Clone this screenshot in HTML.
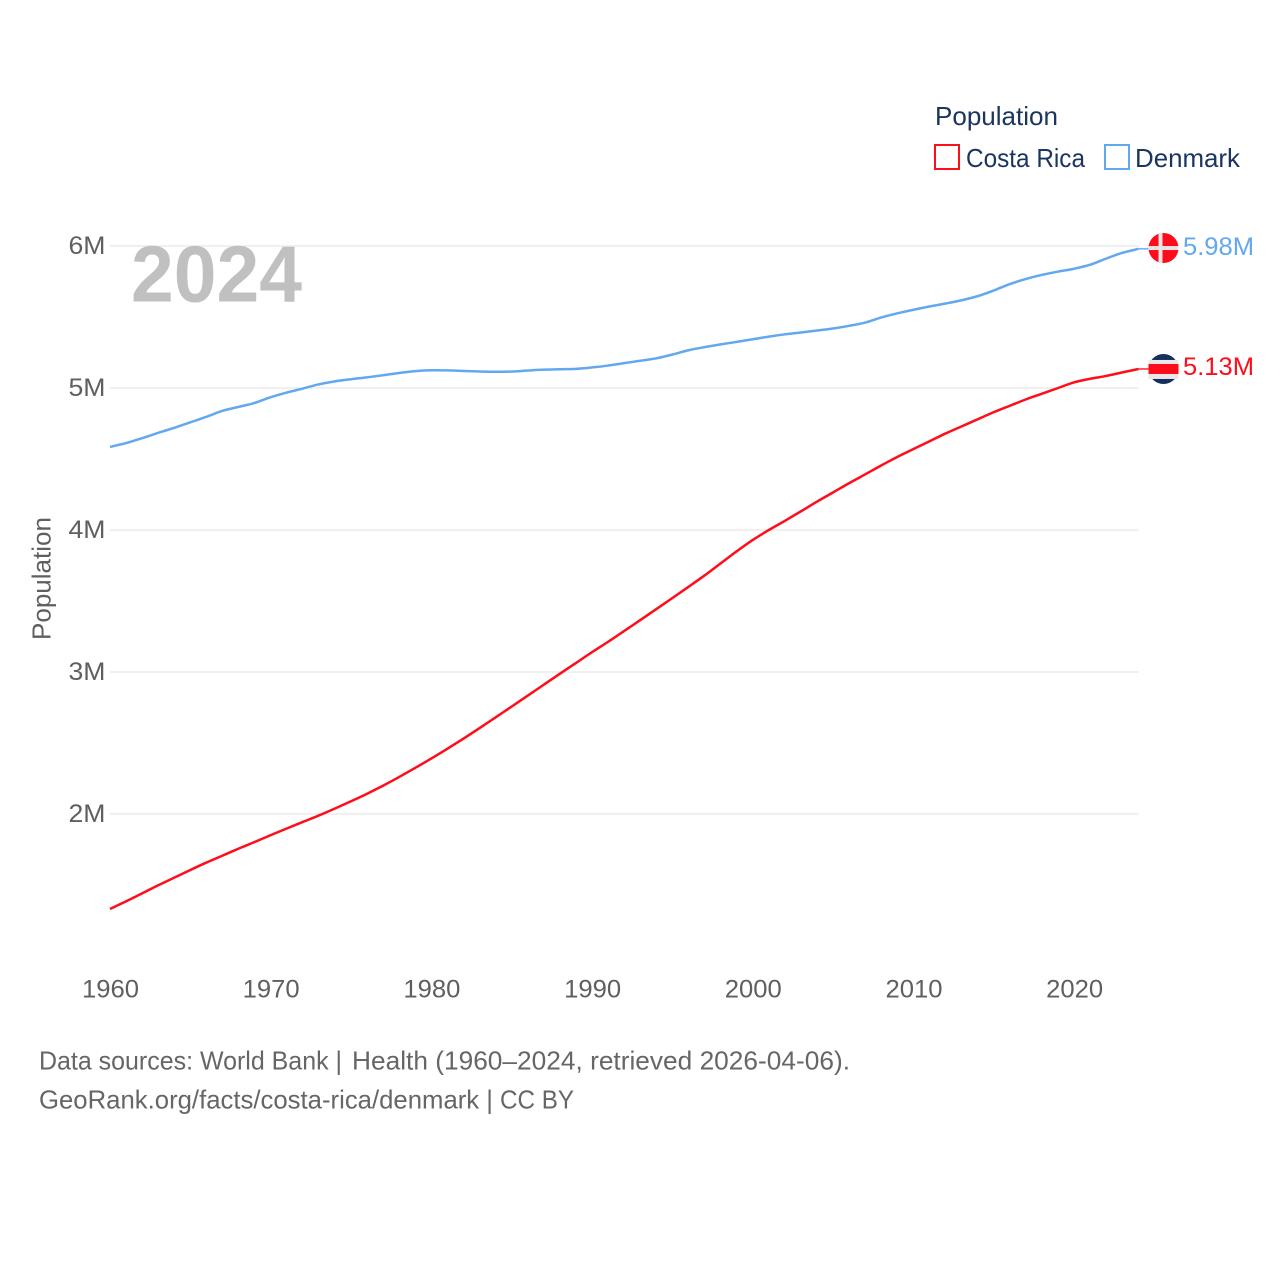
<!DOCTYPE html>
<html lang="en">
<head>
<meta charset="utf-8">
<title>Population: Costa Rica and Denmark</title>
<style>
html,body{margin:0;padding:0;background:#fff;}
svg{display:block;}
text{font-family:"Liberation Sans",sans-serif;}
</style>
</head>
<body>
<svg id="chart" xmlns="http://www.w3.org/2000/svg" width="1280" height="1280" viewBox="0 0 1280 1280">
  <rect x="0" y="0" width="1280" height="1280" fill="#ffffff"/>
  <g id="grid"></g>
  <g id="yaxis"></g>
  <g id="xaxis"></g>
  <text transform="translate(50.5,640) rotate(-90)" font-size="26" fill="#5f5f5f" textLength="123" lengthAdjust="spacingAndGlyphs">Population</text>
  <text x="131" y="301.5" font-size="80" font-weight="700" fill="#c0c0c0" textLength="171" lengthAdjust="spacingAndGlyphs">2024</text>
  <g id="series"></g>
  <g id="ends"></g>

  <g>
    <text x="935" y="125" font-size="26" fill="#1b3560" textLength="123" lengthAdjust="spacingAndGlyphs">Population</text>
    <g>
      <rect x="935" y="145" width="24" height="24" fill="none" stroke="#ff0d1a" stroke-width="2"/>
      <text x="966" y="167" font-size="26" fill="#1b3560" textLength="119" lengthAdjust="spacingAndGlyphs">Costa Rica</text>
    </g>
    <g>
      <rect x="1105" y="145" width="24" height="24" fill="none" stroke="#62a8ee" stroke-width="2"/>
      <text x="1135" y="167" font-size="26" fill="#1b3560" textLength="105" lengthAdjust="spacingAndGlyphs">Denmark</text>
    </g>
  </g>

  <g>
    <text x="39" y="1069.5" font-size="26" fill="#666666" textLength="303" lengthAdjust="spacingAndGlyphs">Data sources: World Bank |</text>
    <text x="352" y="1069.5" font-size="26" fill="#666666" textLength="498" lengthAdjust="spacingAndGlyphs">Health (1960–2024, retrieved 2026-04-06).</text>
    <text x="39" y="1108.5" font-size="26" fill="#666666" textLength="454" lengthAdjust="spacingAndGlyphs">GeoRank.org/facts/costa-rica/denmark |</text>
    <text x="500" y="1108.5" font-size="26" fill="#666666" textLength="74" lengthAdjust="spacingAndGlyphs">CC BY</text>
  </g>
</svg>
<script>
const startYear = 1960;
const xTickYears = [1960, 1970, 1980, 1990, 2000, 2010, 2020];
const yTickValues = [2, 3, 4, 5, 6];
const yTickLabels = ['2M', '3M', '4M', '5M', '6M'];

// Population in millions, one value per year from 1960 to 2024
const costaRica = [
  1.331, 1.385, 1.441, 1.498, 1.552, 1.606, 1.658, 1.707, 1.756, 1.803,
  1.851, 1.898, 1.944, 1.990, 2.039, 2.090, 2.143, 2.200, 2.261, 2.325,
  2.391, 2.460, 2.531, 2.605, 2.681, 2.757, 2.834, 2.911, 2.988, 3.064,
  3.140, 3.213, 3.289, 3.366, 3.443, 3.521, 3.600, 3.680, 3.765, 3.850,
  3.930, 4.000, 4.065, 4.132, 4.200, 4.265, 4.330, 4.392, 4.455, 4.515,
  4.570, 4.625, 4.680, 4.730, 4.780, 4.830, 4.875, 4.920, 4.960, 5.000,
  5.040, 5.065, 5.085, 5.110, 5.134
];
const denmark = [
  4.585, 4.612, 4.647, 4.684, 4.720, 4.758, 4.797, 4.839, 4.867, 4.895,
  4.935, 4.968, 4.996, 5.026, 5.047, 5.062, 5.075, 5.090, 5.106, 5.119,
  5.125, 5.124, 5.120, 5.116, 5.114, 5.116, 5.123, 5.129, 5.132, 5.135,
  5.145, 5.158, 5.175, 5.192, 5.209, 5.236, 5.266, 5.288, 5.307, 5.325,
  5.343, 5.362, 5.378, 5.391, 5.405, 5.419, 5.438, 5.461, 5.497, 5.526,
  5.551, 5.574, 5.595, 5.618, 5.647, 5.687, 5.732, 5.768, 5.797, 5.820,
  5.840, 5.868, 5.912, 5.952, 5.980
];

const SVGNS = 'http://www.w3.org/2000/svg';
const xScale = function (year) { return 110 + (year - startYear) * 16.07; };
const yScale = function (value) { return 246 + (6 - value) * 142; };
const make = function (parent, tag) {
  const node = document.createElementNS(SVGNS, tag);
  parent.appendChild(node);
  return node;
};

const gridG = document.getElementById('grid');
const yG = document.getElementById('yaxis');
const xG = document.getElementById('xaxis');
const seriesG = document.getElementById('series');
const endsG = document.getElementById('ends');

yTickValues.forEach(function (v, i) {
  const line = make(gridG, 'line');
  
  
  line.setAttribute('x1', 110);
  line.setAttribute('x2', xScale(2024));
  line.setAttribute('y1', yScale(v));
  line.setAttribute('y2', yScale(v));
  line.setAttribute('stroke', '#ebebeb');
  line.setAttribute('stroke-width', 1.6);

  const label = make(yG, 'text');
  
  
  label.setAttribute('x', 68.5);
  label.setAttribute('y', yScale(v) + 8);
  label.setAttribute('font-size', 25);
  label.setAttribute('fill', '#5f5f5f');
  label.setAttribute('textLength', 37);
  label.setAttribute('lengthAdjust', 'spacingAndGlyphs');
  label.textContent = yTickLabels[i];
});

xTickYears.forEach(function (year) {
  const label = make(xG, 'text');
  
  
  label.setAttribute('x', xScale(year) - 28);
  label.setAttribute('y', 997.5);
  label.setAttribute('font-size', 25);
  label.setAttribute('fill', '#5f5f5f');
  label.setAttribute('textLength', 57);
  label.setAttribute('lengthAdjust', 'spacingAndGlyphs');
  label.textContent = String(year);
});

function smoothPath(values) {
  const pts = values.map(function (v, i) {
    return [xScale(startYear + i), yScale(v)];
  });
  let d = 'M' + pts[0][0].toFixed(2) + ' ' + pts[0][1].toFixed(2);
  for (let i = 0; i < pts.length - 1; i++) {
    const p0 = pts[Math.max(i - 1, 0)];
    const p1 = pts[i];
    const p2 = pts[i + 1];
    const p3 = pts[Math.min(i + 2, pts.length - 1)];
    const c1x = p1[0] + (p2[0] - p0[0]) / 6;
    const c1y = p1[1] + (p2[1] - p0[1]) / 6;
    const c2x = p2[0] - (p3[0] - p1[0]) / 6;
    const c2y = p2[1] - (p3[1] - p1[1]) / 6;
    d += 'C' + c1x.toFixed(2) + ' ' + c1y.toFixed(2) + ' ' + c2x.toFixed(2) + ' ' + c2y.toFixed(2) + ' ' + p2[0].toFixed(2) + ' ' + p2[1].toFixed(2);
  }
  return d;
}

function drawLine(values, color, name) {
  const line = make(seriesG, 'path');
  
  
  line.setAttribute('d', smoothPath(values));
  line.setAttribute('fill', 'none');
  line.setAttribute('stroke', color);
  line.setAttribute('stroke-width', 2.5);
  line.setAttribute('stroke-linejoin', 'round');
}

function drawEnd(values, color, name) {
  const last = values[values.length - 1];
  const yEnd = yScale(last);
  const leader = make(endsG, 'line');
  
  
  leader.setAttribute('x1', xScale(2024));
  leader.setAttribute('x2', 1149);
  leader.setAttribute('y1', yEnd);
  leader.setAttribute('y2', yEnd);
  leader.setAttribute('stroke', color);
  leader.setAttribute('stroke-width', 1.6);
  leader.setAttribute('opacity', 0.85);

  const label = make(endsG, 'text');
  
  
  label.setAttribute('x', 1183);
  label.setAttribute('y', yEnd + 6);
  label.setAttribute('font-size', 25);
  label.setAttribute('fill', color);
  label.setAttribute('textLength', 71);
  label.setAttribute('lengthAdjust', 'spacingAndGlyphs');
  label.textContent = last.toFixed(2) + 'M';
  return yEnd;
}

drawLine(costaRica, '#ff0d1a', 'costa-rica-line');
drawLine(denmark, '#62a8ee', 'denmark-line');
const crY = drawEnd(costaRica, '#ff0d1a', 'costa-rica');
const dkY = drawEnd(denmark, '#62a8ee', 'denmark');

// Denmark flag marker
const dk = make(endsG, 'g');


dk.setAttribute('transform', 'translate(1163.5,' + (dkY - 0.8) + ')');
const dkDisc = make(dk, 'circle');


dkDisc.setAttribute('r', 15);
dkDisc.setAttribute('fill', '#fb0d1b');
const dkH = make(dk, 'rect');


dkH.setAttribute('x', -15);
dkH.setAttribute('y', -2);
dkH.setAttribute('width', 30);
dkH.setAttribute('height', 4);
dkH.setAttribute('fill', '#e9e4e4');
const dkV = make(dk, 'rect');


dkV.setAttribute('x', -5);
dkV.setAttribute('y', -15);
dkV.setAttribute('width', 4);
dkV.setAttribute('height', 30);
dkV.setAttribute('fill', '#e9e4e4');

// Costa Rica flag marker
const cr = make(endsG, 'g');


cr.setAttribute('transform', 'translate(1163.5,' + crY + ')');
const crDisc = make(cr, 'circle');


crDisc.setAttribute('r', 15);
crDisc.setAttribute('fill', '#14305e');
const crWhite = make(cr, 'rect');


crWhite.setAttribute('x', -15);
crWhite.setAttribute('y', -9);
crWhite.setAttribute('width', 30);
crWhite.setAttribute('height', 19);
crWhite.setAttribute('fill', '#ece8e8');
const crRed = make(cr, 'rect');


crRed.setAttribute('x', -15);
crRed.setAttribute('y', -5);
crRed.setAttribute('width', 30);
crRed.setAttribute('height', 10);
crRed.setAttribute('fill', '#fb0d1b');
</script>
</body>
</html>
